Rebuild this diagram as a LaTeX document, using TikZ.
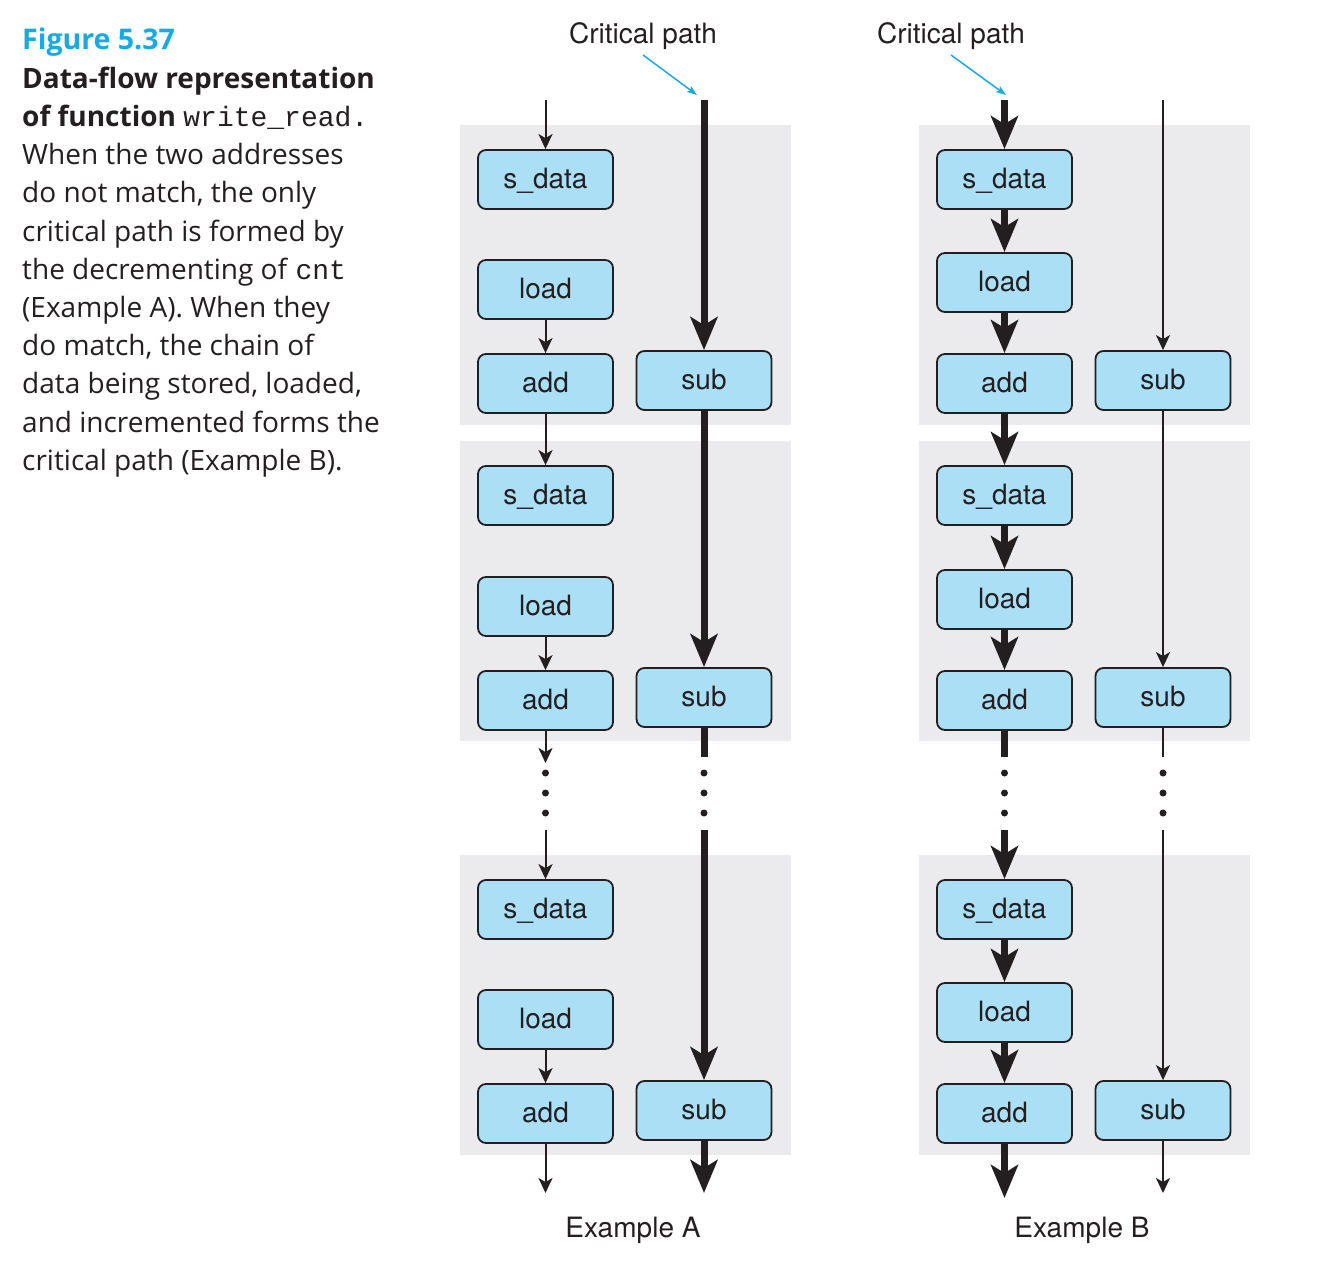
\documentclass[tikz,border=0pt]{standalone}
\usepackage{fontspec}
\setmainfont{Open Sans}
\setmonofont{Liberation Mono}
\newfontfamily\heros{TeX Gyre Heros}
\usetikzlibrary{arrows.meta}
\definecolor{boxc}{RGB}{170,223,246}
\definecolor{panelc}{RGB}{235,235,237}
\definecolor{linec}{RGB}{35,31,32}
\definecolor{figblue}{RGB}{27,169,225}
\begin{document}
\begin{tikzpicture}[x=1pt,y=-1pt,
  box/.style={draw=linec, line width=1.8pt, fill=boxc, rounded corners=8pt,
    minimum width=135pt, minimum height=59pt, inner sep=0pt,
    text height=21pt, text depth=3pt, text=linec,
    font=\heros\fontsize{28}{32}\selectfont},
  thinarr/.style={draw=linec, line width=2pt, -{Stealth[length=15pt,width=14pt,inset=4pt]}},
  thickarr/.style={draw=linec, line width=7pt, -{Stealth[length=33pt,width=27pt,inset=8pt]}},
  thinln/.style={draw=linec, line width=2pt},
  thickln/.style={draw=linec, line width=7pt},
  bluearr/.style={draw=figblue, line width=1.5pt, -{Stealth[length=10pt,width=7pt,inset=2pt]}},
  lbl/.style={text=linec, inner sep=0pt, font=\heros\fontsize{28}{32}\selectfont},
  captxt/.style={anchor=base west, inner sep=0pt, text=linec, font=\fontsize{28}{34}\selectfont},
  dotfill/.style={fill=linec}
]
\useasboundingbox (0,0) rectangle (1320,1284);

% caption
\node[captxt, text=figblue, font=\bfseries\fontsize{28.5}{34}\selectfont] (c1) at (22,50) {Figure 5.37};
\node[captxt, font=\bfseries\fontsize{28}{34}\selectfont] (c2) at (22,88.2) {Data-flow representation};
\node[captxt] (c3) at (22,126.4) {\textbf{of function} \texttt{write\_read.}};
\node[captxt] (c4) at (22,164.6) {When the two addresses};
\node[captxt] (c5) at (22,202.8) {do not match, the only};
\node[captxt] (c6) at (22,241) {critical path is formed by};
\node[captxt] (c7) at (22,279.2) {the decrementing of \texttt{cnt}};
\node[captxt] (c8) at (22,317.4) {(Example A). When they};
\node[captxt] (c9) at (22,355.6) {do match, the chain of};
\node[captxt] (c10) at (22,393.8) {data being stored, loaded,};
\node[captxt] (c11) at (22,432) {and incremented forms the};
\node[captxt] (c12) at (22,470.2) {critical path (Example B).};

% panels
\foreach \xa/\xb in {460/791, 919/1250}{
  \fill[panelc] (\xa,125) rectangle (\xb,425);
  \fill[panelc] (\xa,441) rectangle (\xb,741);
  \fill[panelc] (\xa,855) rectangle (\xb,1155);
}

% ---------- Example A ----------
\node[box] (as1) at (545.5,179.5) {s\_data};
\node[box] (al1) at (545.5,289.5) {load};
\node[box] (aa1) at (545.5,383.5) {add};
\node[box] (au1) at (704,380.5) {sub};
\node[box] (as2) at (545.5,495.5) {s\_data};
\node[box] (al2) at (545.5,606.5) {load};
\node[box] (aa2) at (545.5,700.5) {add};
\node[box] (au2) at (704,697.5) {sub};
\node[box] (as3) at (545.5,909.5) {s\_data};
\node[box] (al3) at (545.5,1019.5) {load};
\node[box] (aa3) at (545.5,1113.5) {add};
\node[box] (au3) at (704,1110.5) {sub};

\coordinate (aL0) at (545.5,100);
\coordinate (aLd1) at (545.5,763);
\coordinate (aLd2) at (545.5,830);
\coordinate (aLe) at (545.5,1193);
\coordinate (aR0) at (704,100);
\coordinate (aRd1) at (704,757);
\coordinate (aRd2) at (704,830);
\coordinate (aRe) at (704,1193);

\draw[thinarr] (aL0) -- (as1);
\draw[thinarr] (al1) -- (aa1);
\draw[thinarr] (aa1) -- (as2);
\draw[thinarr] (al2) -- (aa2);
\draw[thinarr] (aa2) -- (aLd1);
\draw[thinarr] (aLd2) -- (as3);
\draw[thinarr] (al3) -- (aa3);
\draw[thinarr] (aa3) -- (aLe);

\draw[thickarr] (aR0) -- (au1);
\draw[thickarr] (au1) -- (au2);
\draw[thickln] (au2) -- (aRd1);
\draw[thickarr] (aRd2) -- (au3);
\draw[thickarr] (au3) -- (aRe);

\foreach \y in {773,793,813}{
  \fill[dotfill] (545.5,\y) circle (3.5pt);
  \fill[dotfill] (704,\y) circle (3.5pt);
}

\node[lbl, anchor=base] (acp) at (643,44) {Critical path};
\coordinate (ab1) at (643,55);
\coordinate (ab2) at (697,95);
\draw[bluearr] (ab1) -- (ab2);
\node[lbl, anchor=base] (aex) at (633,1237) {Example A};

% ---------- Example B ----------
\node[box] (bs1) at (1004.5,179.5) {s\_data};
\node[box] (bl1) at (1004.5,282.5) {load};
\node[box] (ba1) at (1004.5,383.5) {add};
\node[box] (bu1) at (1163,380.5) {sub};
\node[box] (bs2) at (1004.5,495.5) {s\_data};
\node[box] (bl2) at (1004.5,599.5) {load};
\node[box] (ba2) at (1004.5,700.5) {add};
\node[box] (bu2) at (1163,697.5) {sub};
\node[box] (bs3) at (1004.5,909.5) {s\_data};
\node[box] (bl3) at (1004.5,1012.5) {load};
\node[box] (ba3) at (1004.5,1113.5) {add};
\node[box] (bu3) at (1163,1110.5) {sub};

\coordinate (bL0) at (1004.5,100);
\coordinate (bLd1) at (1004.5,757);
\coordinate (bLd2) at (1004.5,830);
\coordinate (bLe) at (1004.5,1198);
\coordinate (bR0) at (1163,100);
\coordinate (bRd1) at (1163,757);
\coordinate (bRd2) at (1163,830);
\coordinate (bRe) at (1163,1193);

\draw[thickarr] (bL0) -- (bs1);
\draw[thickarr] (bs1) -- (bl1);
\draw[thickarr] (bl1) -- (ba1);
\draw[thickarr] (ba1) -- (bs2);
\draw[thickarr] (bs2) -- (bl2);
\draw[thickarr] (bl2) -- (ba2);
\draw[thickln] (ba2) -- (bLd1);
\draw[thickarr] (bLd2) -- (bs3);
\draw[thickarr] (bs3) -- (bl3);
\draw[thickarr] (bl3) -- (ba3);
\draw[thickarr] (ba3) -- (bLe);

\draw[thinarr] (bR0) -- (bu1);
\draw[thinarr] (bu1) -- (bu2);
\draw[thinln] (bu2) -- (bRd1);
\draw[thinarr] (bRd2) -- (bu3);
\draw[thinarr] (bu3) -- (bRe);

\foreach \y in {773,793,813}{
  \fill[dotfill] (1004.5,\y) circle (3.5pt);
  \fill[dotfill] (1163,\y) circle (3.5pt);
}

\node[lbl, anchor=base] (bcp) at (951,44) {Critical path};
\coordinate (bb1) at (951,55);
\coordinate (bb2) at (1006,95);
\draw[bluearr] (bb1) -- (bb2);
\node[lbl, anchor=base] (bex) at (1082,1237) {Example B};
\end{tikzpicture}
\end{document}
